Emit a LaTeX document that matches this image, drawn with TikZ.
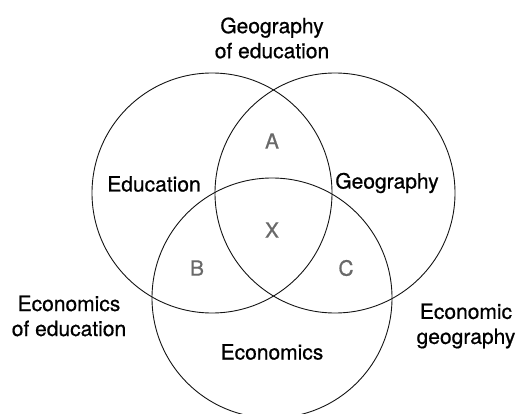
\documentclass[tikz,border=0pt]{standalone}
\usepackage{fontspec}
\setmainfont{TeX Gyre Heros}[FakeBold=0.7]
\usepackage{tikz}
\usetikzlibrary{positioning}
\definecolor{ringline}{RGB}{20, 20, 20}
\definecolor{zonegray}{RGB}{105, 105, 105}

\tikzset{
    venn/.style   = {circle, draw=ringline, line width=0.9pt, minimum size=240pt, inner sep=0pt},
    field/.style  = {font=\fontsize{21}{25}\selectfont, text=black, align=center, inner sep=0pt},
    zone/.style   = {font=\fontsize{21}{25}\selectfont, text=zonegray, inner sep=0pt}
}

\begin{document}
\begin{tikzpicture}[x=1pt, y=-1pt]
    \useasboundingbox (0,0) rectangle (521,414);
    % the three subjects
    \node[venn] (edu) at (212,193) {};
    \node[venn] (geo) at (335,193) {};
    \node[venn] (eco) at (272,298) {};
    % circle names
    \node[field] (edutxt) at (154,184) {Education};
    \node[field] (geotxt) at (387,183) {Geography};
    \node[field] (ecotxt) at (272,352) {Economics};
    % overlaps
    \node[zone] (za) at (272,141) {A};
    \node[zone] (zx) at (272,230) {X};
    \node[zone] (zb) at (197,268) {B};
    \node[zone] (zc) at (346,268) {C};
    % combined fields outside
    \node[field] (geoedu) at (272,38)  {Geography\\of education};
    \node[field] (ecoedu) at (69,316)  {Economics\\of education};
    \node[field] (ecogeo) at (466,326) {Economic\\geography};
\end{tikzpicture}
\end{document}
